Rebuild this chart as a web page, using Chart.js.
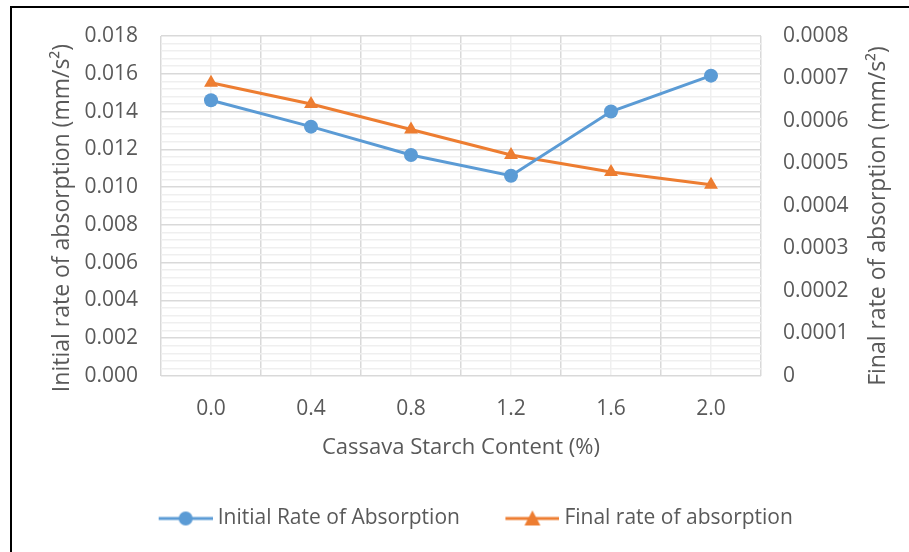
<!DOCTYPE html>
<html>
<head>
<meta charset="utf-8">
<script src="https://cdn.jsdelivr.net/npm/chart.js@4"></script>
<style>
  html, body { margin: 0; padding: 0; background: #fff; }
  #wrap { position: relative; width: 909px; height: 552px; }
  #frame {
    position: absolute; left: 10px; top: 6px; right: 0; bottom: 0;
    border-left: 2px solid #000; border-top: 2px solid #000;
    pointer-events: none;
  }
  canvas { position: absolute; left: 0; top: 0; }
</style>
</head>
<body>
<div id="wrap">
  <canvas id="absorptionChart" width="909" height="552"></canvas>
  <div id="frame"></div>
</div>
<script>
// starch content (%)
const starchContent = [0.0, 0.4, 0.8, 1.2, 1.6, 2.0];
// initial rate of absorption (mm/s2), left axis
const initialRate = [0.0146, 0.0132, 0.0117, 0.0106, 0.0140, 0.0159];
// final rate of absorption (mm/s2), right axis
const finalRate = [0.00069, 0.00064, 0.00058, 0.00052, 0.00048, 0.00045];

const leftTicks = [0, 0.002, 0.004, 0.006, 0.008, 0.010, 0.012, 0.014, 0.016, 0.018];
const rightTicks = [0, 0.0001, 0.0002, 0.0003, 0.0004, 0.0005, 0.0006, 0.0007, 0.0008];

const BLUE = '#5B9BD5';
const ORANGE = '#ED7D31';
const TEXT = '#595959';
const FONT = "'Open Sans', sans-serif";

// legend icon: a short line with the marker in the middle
// (left part of the canvas stays empty, gives the gap between items)
function legendIcon(color, style) {
    const c = document.createElement('canvas');
    c.width = 69; c.height = 18;
    const g = c.getContext('2d');
    g.strokeStyle = color;
    g.lineWidth = 3;
    g.beginPath(); g.moveTo(15, 9); g.lineTo(69, 9); g.stroke();
    g.fillStyle = color;
    g.beginPath();
    if (style === 'circle') {
        g.arc(42, 9, 7, 0, Math.PI * 2);
    } else {
        g.moveTo(42, 1); g.lineTo(50, 16); g.lineTo(34, 16); g.closePath();
    }
    g.fill();
    return c;
}
const icons = [legendIcon(BLUE, 'circle'), legendIcon(ORANGE, 'triangle')];

// both y titles read bottom to top, like the original
const yTitles = {
    id: 'yTitles',
    afterDraw(chart) {
        const c = chart.ctx;
        const items = [
            ['Initial rate of absorption (mm/s\u00B2)', 62, 218],
            ['Final rate of absorption (mm/s\u00B2)', 878, 216]
        ];
        c.save();
        c.fillStyle = TEXT;
        c.font = '23px ' + FONT;
        c.textAlign = 'center';
        c.textBaseline = 'middle';
        items.forEach(([t, x, y]) => {
            c.save();
            c.translate(x, y);
            c.rotate(-Math.PI / 2);
            c.fillText(t, 0, 0);
            c.restore();
        });
        c.restore();
    }
};

const ctx = document.getElementById('absorptionChart');

new Chart(ctx, {
    type: 'line',
    data: {
        datasets: [{
            label: 'Initial Rate of Absorption',
            data: starchContent.map((x, i) => ({ x: x, y: initialRate[i] })),
            yAxisID: 'y',
            borderColor: BLUE,
            backgroundColor: BLUE,
            borderWidth: 3,
            pointStyle: 'circle',
            pointRadius: 7,
            pointBorderWidth: 0,
            tension: 0
        }, {
            label: 'Final rate of absorption',
            data: starchContent.map((x, i) => ({ x: x, y: finalRate[i] })),
            yAxisID: 'y2',
            borderColor: ORANGE,
            backgroundColor: ORANGE,
            borderWidth: 3,
            pointStyle: 'triangle',
            pointRadius: 8,
            pointBorderWidth: 0,
            tension: 0
        }]
    },
    plugins: [yTitles],
    options: {
        responsive: false,
        animation: false,
        layout: { padding: { left: 33, right: 0, top: 36, bottom: 13 } },
        plugins: {
            tooltip: { enabled: false },
            legend: {
                position: 'bottom',
                labels: {
                    usePointStyle: true,
                    pointStyleWidth: 58,
                    padding: 36,
                    color: TEXT,
                    font: { family: FONT, size: 21 },
                    generateLabels: chart => chart.data.datasets.map((ds, i) => ({
                        text: ds.label,
                        pointStyle: icons[i],
                        fontColor: TEXT,
                        fillStyle: 'transparent',
                        strokeStyle: 'transparent',
                        lineWidth: 0,
                        hidden: false,
                        datasetIndex: i
                    }))
                }
            }
        },
        scales: {
            x: {
                type: 'linear',
                min: -0.2,
                max: 2.2,
                border: { display: false },
                grid: {
                    drawTicks: false,
                    lineWidth: 1.5,
                    color: c => c.index % 2 === 0 ? '#d9d9d9' : '#efefef'
                },
                ticks: {
                    stepSize: 0.2,
                    autoSkip: false,
                    maxRotation: 0,
                    padding: 20,
                    color: TEXT,
                    font: { family: FONT, size: 21 },
                    callback: (v, i) => i % 2 === 1 ? starchContent[(i - 1) / 2].toFixed(1) : ''
                },
                title: {
                    display: true,
                    text: 'Cassava Starch Content (%)',
                    color: TEXT,
                    font: { family: FONT, size: 22 },
                    padding: { top: 0, bottom: 11 }
                },
                afterFit: s => { s.height = s.chart.height - 13 - s.chart.legend.height - 376; }
            },
            y: {
                position: 'left',
                min: 0,
                max: 0.018,
                border: { display: false },
                grid: {
                    drawTicks: false,
                    lineWidth: 1.5,
                    color: c => c.index % 5 === 0 ? '#d9d9d9' : '#efefef'
                },
                ticks: {
                    stepSize: 0.0004,
                    autoSkip: false,
                    padding: 23,
                    color: TEXT,
                    font: { family: FONT, size: 21 },
                    callback: (v, i) => i % 5 === 0 ? leftTicks[i / 5].toFixed(3) : ''
                },
                afterFit: s => { s.width = 161 - 33; }
            },
            y2: {
                position: 'right',
                min: 0,
                max: 0.0008,
                border: { display: false },
                grid: { display: false, drawTicks: false },
                ticks: {
                    stepSize: 0.0001,
                    autoSkip: false,
                    padding: 22,
                    color: TEXT,
                    font: { family: FONT, size: 21 },
                    callback: (v, i) => i === 0 ? '0' : rightTicks[i].toFixed(4)
                },
                afterFit: s => { s.width = 909 - 761; }
            }
        }
    }
});
</script>
</body>
</html>
